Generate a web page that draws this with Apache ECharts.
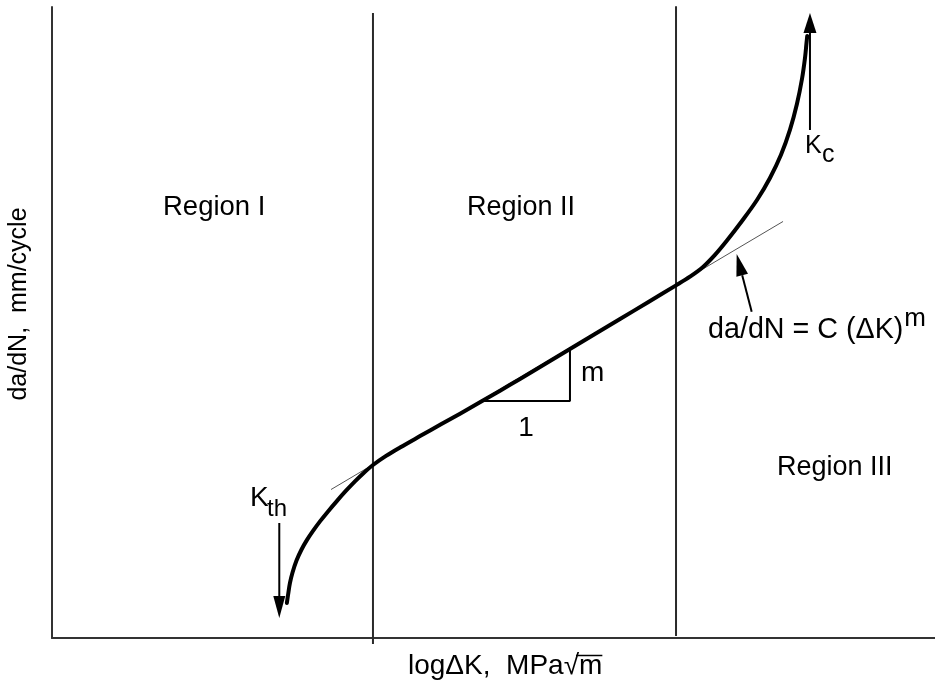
<!DOCTYPE html>
<html><head><meta charset="utf-8">
<script src="https://cdn.jsdelivr.net/npm/echarts@6/dist/echarts.min.js"></script>
<style>html,body{margin:0;padding:0;background:#fff}#c{width:935px;height:683px}</style>
</head><body><div id="c"></div>
<script>
// Schematic fatigue crack growth curve; x = log ΔK, y = log da/dN, arbitrary units 0–100
const curveX = [26.60, 26.73, 26.95, 27.24, 27.69, 28.26, 28.88, 29.56, 30.35, 31.26, 32.28, 33.30, 34.31, 35.33, 36.35, 37.83, 39.41, 41.68, 44.05, 46.21, 48.66, 50.74, 53.00, 55.83, 58.66, 61.49, 64.33, 67.50, 70.67, 72.25, 73.73, 75.08, 76.44, 78.14, 79.84, 81.31, 82.56, 83.58, 84.37, 84.94, 85.28, 85.45, 85.53];
const curveY = [5.55, 6.81, 8.72, 10.38, 12.28, 14.03, 15.55, 16.97, 18.48, 20.06, 21.74, 23.34, 24.83, 26.20, 27.42, 28.86, 30.19, 32.00, 33.87, 35.55, 37.51, 39.19, 41.06, 43.42, 45.80, 48.18, 50.55, 53.22, 55.88, 57.26, 58.80, 60.71, 62.99, 66.08, 69.41, 72.91, 76.57, 80.56, 84.67, 88.63, 91.96, 94.33, 95.40];
const tangentX = [31.60, 82.79];
const tangentY = [23.53, 66.01];
const boundaryX = [36.35, 70.67];
const boundaryTop = [99.05, 100.1];
const boundaryBottom = [-0.95, 0.3];
const slopeTriX = [48.66, 58.66, 58.66];
const slopeTriY = [37.55, 37.55, 45.85];
const arrowTail = [[25.74, 18.23], [85.84, 80.51], [79.24, 51.71]];
const arrowTip = [[25.74, 3.17], [85.84, 99.05], [77.54, 60.86]];
const regionLabels = ['Region I', 'Region II', 'Region III'];
const xAxisTitle = 'log\u0394K,  MPa\u221A';
const xAxisTitleRoot = 'm';
const yAxisTitle = 'da/dN,  mm/cycle';
const lawText = 'da/dN = C (\u0394K)';
const lawExp = 'm';

const FONT = '"Liberation Sans", Arial, sans-serif';
const chart = echarts.init(document.getElementById('c'));
const series = [
  { type: 'line', data: curveX.map((x, i) => [x, curveY[i]]), showSymbol: false, smooth: 0.35,
    lineStyle: { color: '#000', width: 4, cap: 'round', join: 'round' }, z: 5 },
  { type: 'line', data: tangentX.map((x, i) => [x, tangentY[i]]), showSymbol: false,
    lineStyle: { color: '#555', width: 1 }, z: 4 },
  { type: 'line', data: slopeTriX.map((x, i) => [x, slopeTriY[i]]), showSymbol: false,
    lineStyle: { color: '#000', width: 2 }, z: 4 }
];
boundaryX.forEach((x, i) => {
  series.push({ type: 'line', clip: false, data: [[x, boundaryBottom[i]], [x, boundaryTop[i]]], showSymbol: false,
    lineStyle: { color: '#2a2a2a', width: 2 }, z: 3 });
});
chart.setOption({
  animation: false,
  backgroundColor: '#fff',
  grid: { left: 52, right: 0, top: 7, bottom: 45 },
  xAxis: { type: 'value', min: 0, max: 100, axisTick: { show: false }, axisLabel: { show: false },
    splitLine: { show: false }, axisLine: { lineStyle: { color: '#333', width: 2 } } },
  yAxis: { type: 'value', min: 0, max: 100, axisTick: { show: false }, axisLabel: { show: false },
    splitLine: { show: false }, axisLine: { lineStyle: { color: '#333', width: 2 } } },
  series: series
});

const g = [];
const headLen = [22, 20, 22], headHalf = [6, 6.5, 6];
arrowTail.forEach((t, i) => {
  const a = chart.convertToPixel({ gridIndex: 0 }, t);
  const b = chart.convertToPixel({ gridIndex: 0 }, arrowTip[i]);
  const dx = b[0] - a[0], dy = b[1] - a[1], L = Math.hypot(dx, dy), ux = dx / L, uy = dy / L;
  const bx = b[0] - ux * headLen[i], by = b[1] - uy * headLen[i];
  g.push({ type: 'line', shape: { x1: a[0], y1: a[1], x2: bx, y2: by }, style: { stroke: '#000', lineWidth: 2 } });
  g.push({ type: 'polygon', shape: { points: [[b[0], b[1]], [bx - uy * headHalf[i], by + ux * headHalf[i]], [bx + uy * headHalf[i], by - ux * headHalf[i]]] },
    style: { fill: '#000' } });
});
function txt(text, x, y, size, opts) {
  opts = opts || {};
  return { type: 'text', x: x, y: y, rotation: opts.rotation || 0,
    style: { text: text, fontSize: size, fontFamily: FONT, fill: '#000', align: opts.align || 'left', verticalAlign: 'middle' } };
}
g.push(txt(regionLabels[0], 163, 207, 27.5));
g.push(txt(regionLabels[1], 467, 208, 27));
g.push(txt(regionLabels[2], 777, 468, 27));
g.push(txt('K', 250, 498, 28));
g.push(txt('th', 267, 509, 24));
g.push(txt('K', 805, 146, 25));
g.push(txt('c', 822, 155, 25));
g.push(txt('m', 581, 373, 28));
g.push(txt('1', 526, 428, 28, { align: 'center' }));
g.push(txt(lawText, 708, 330, 28.7));
// measure text to place superscript and overline
const ctx = document.createElement('canvas').getContext('2d');
ctx.font = '28.7px ' + FONT;
const lawW = ctx.measureText(lawText).width;
g.push(txt(lawExp, 708 + lawW + 1, 319, 26));
ctx.font = '28px ' + FONT;
const xtW = ctx.measureText(xAxisTitle).width;
const mW = ctx.measureText(xAxisTitleRoot).width;
const xtLeft = 408;
g.push(txt(xAxisTitle + xAxisTitleRoot, xtLeft, 666, 28));
g.push({ type: 'line', shape: { x1: xtLeft + xtW - 3, y1: 655.5, x2: xtLeft + xtW + mW, y2: 655.5 }, style: { stroke: '#000', lineWidth: 1.5 } });
g.push(txt(yAxisTitle, 19, 304, 25, { align: 'center', rotation: Math.PI / 2 }));
chart.setOption({ graphic: { elements: g } });
</script>
</body></html>
